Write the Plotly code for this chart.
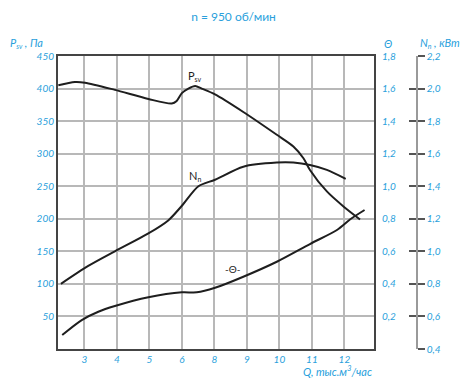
import plotly.graph_objects as go

# fan curves, n = 950 rpm
q_p = [3.2, 3.71, 4.02, 4.94, 5.97, 6.69, 6.84, 7.0, 7.2, 7.41, 7.61, 8.02, 8.89, 9.92, 10.43, 10.74, 10.94, 11.46, 11.97, 12.48]
p_sv = [405, 410, 409, 398, 384, 377, 381, 393, 400, 404, 400, 391, 364, 329, 311, 293, 275, 242, 219, 199]

q_n = [3.28, 4.12, 4.94, 5.97, 6.58, 7.0, 7.51, 8.02, 8.89, 9.92, 10.43, 10.94, 11.46, 12.04]
n_n = [0.80, 0.91, 1.00, 1.11, 1.19, 1.28, 1.40, 1.44, 1.52, 1.545, 1.545, 1.53, 1.50, 1.445]

q_t = [3.32, 3.92, 4.43, 4.94, 5.97, 7.0, 7.46, 8.02, 8.89, 9.92, 10.94, 11.77, 12.18, 12.62]
theta = [0.086, 0.178, 0.229, 0.264, 0.318, 0.348, 0.348, 0.376, 0.444, 0.536, 0.645, 0.731, 0.797, 0.854]

x_ticks = [4, 5, 6, 7, 8, 9, 10, 11, 12]
x_labels = ['3', '4', '5', '6', '8', '9', '10', '11', '12']
p_ticks = [50, 100, 150, 200, 250, 300, 350, 400, 450]
t_ticks = [0.2, 0.4, 0.6, 0.8, 1.0, 1.2, 1.4, 1.6, 1.8]
n_ticks = [0.4, 0.6, 0.8, 1.0, 1.2, 1.4, 1.6, 1.8, 2.0, 2.2]
N_RANGE = [0.4, 2.2]

BLUE = '#2a9fdc'
GRID = '#b8b8b8'
LINE = dict(color='#1e1e1e', width=2, shape='spline', smoothing=0.8)
FONT = 'Lato, "Noto Sans", sans-serif'
tick_font = dict(family=FONT, size=10, color=BLUE, style='italic')

W, H = 467, 378
M = dict(l=58, r=5, t=56, b=29)
X_DOM = 0.7822
plot_w = (W - M['l'] - M['r']) * X_DOM
plot_h = H - M['t'] - M['b']


def comma(v):
    return f"{v:.1f}".replace('.', ',')


fig = go.Figure()
fig.add_trace(go.Scatter(x=q_p, y=p_sv, mode='lines', line=LINE, xaxis='x', yaxis='y'))
fig.add_trace(go.Scatter(x=q_t, y=theta, mode='lines', line=LINE, xaxis='x', yaxis='y2'))
fig.add_trace(go.Scatter(x=q_n, y=n_n, mode='lines', line=LINE, xaxis='x', yaxis='y3'))
# empty traces so the separate N scale (ticks on both sides) gets drawn
fig.add_trace(go.Scatter(x=[None], y=[None], mode='lines', xaxis='x2', yaxis='y4', hoverinfo='skip'))
fig.add_trace(go.Scatter(x=[None], y=[None], mode='lines', xaxis='x2', yaxis='y5', hoverinfo='skip'))

# grid: regular gridlines plus full-length inside ticks as a fallback
fig.update_layout(
    template='none',
    width=W, height=H,
    margin=M,
    paper_bgcolor='white', plot_bgcolor='rgba(0,0,0,0)',
    showlegend=False,
    title=dict(text='n = 950 об/мин', x=0.5, xref='container', xanchor='center',
               y=0.955, yanchor='middle', font=dict(family=FONT, size=12, color=BLUE)),
    xaxis=dict(domain=[0, X_DOM], range=[3.19, 12.91], tickmode='array', tickvals=x_ticks, ticktext=x_labels,
               showgrid=True, gridcolor=GRID, gridwidth=1.5, zeroline=False,
               showline=True, linecolor='#444', linewidth=2, mirror=True, layer='below traces',
               ticks='inside', ticklen=plot_h, tickwidth=1.5, tickcolor=GRID, tickfont=tick_font),
    yaxis=dict(range=[0, 450], tickmode='array', tickvals=p_ticks,
               showgrid=True, gridcolor=GRID, gridwidth=1.5, zeroline=False,
               showline=True, linecolor='#444', linewidth=2, mirror=True, layer='below traces',
               ticks='inside', ticklen=plot_w, tickwidth=1.5, tickcolor=GRID, tickfont=tick_font),
    yaxis2=dict(range=[0, 1.8], overlaying='y', side='right', anchor='x',
                tickmode='array', tickvals=t_ticks, ticktext=[comma(v) for v in t_ticks],
                showgrid=False, zeroline=False, showline=False,
                ticks='outside', ticklen=5, tickcolor='rgba(0,0,0,0)',
                tickfont=tick_font),
    yaxis3=dict(range=N_RANGE, overlaying='y', side='right', anchor='x',
                showgrid=False, zeroline=False, showline=False, ticks='', showticklabels=False),
    xaxis2=dict(domain=[0.80, 0.8854], range=[0, 1], visible=False),
    yaxis4=dict(range=N_RANGE, side='right', anchor='x2',
                tickmode='array', tickvals=n_ticks, ticktext=[comma(v) for v in n_ticks],
                showgrid=False, zeroline=False, showline=True, linecolor='#9a9a9a', linewidth=2,
                ticks='outside', ticklen=7, tickwidth=1.5, tickcolor='#555',
                tickfont=tick_font),
    yaxis5=dict(range=N_RANGE, overlaying='y4', side='right', anchor='x2',
                tickmode='array', tickvals=n_ticks, showticklabels=False,
                showgrid=False, zeroline=False, showline=False,
                ticks='inside', ticklen=7, tickwidth=1.5, tickcolor='#555'),
)

# curve labels
lab = dict(family=FONT, size=11, color='#1e1e1e')
fig.add_annotation(x=7.41, y=419, text="P<sub><span style='font-size:7px'>sv</span></sub>", showarrow=False, font=lab)
fig.add_annotation(x=7.4, y=266, text="N<sub><span style='font-size:7px'>n</span></sub>", showarrow=False, font=lab)
fig.add_annotation(x=8.58, y=123, text='-Θ-', showarrow=False, font=dict(family=FONT, size=10, color='#1e1e1e'))

# axis titles
ttl = dict(family=FONT, size=11, color=BLUE, style='italic')
fig.add_annotation(xref='paper', yref='paper', x=-0.124, y=1.012, xanchor='left', yanchor='bottom',
                   text="P<sub><span style='font-size:7px'>sv</span></sub> , Па", showarrow=False, font=ttl)
fig.add_annotation(xref='paper', yref='paper', x=0.818, y=1.012, xanchor='center', yanchor='bottom',
                   text='Θ', showarrow=False, font=ttl)
fig.add_annotation(xref='paper', yref='paper', x=0.89, y=1.012, xanchor='left', yanchor='bottom',
                   text="N<sub><span style='font-size:7px'>n</span></sub> , кВт", showarrow=False, font=ttl)
fig.add_annotation(xref='paper', yref='paper', x=0.7822, y=-0.04, xanchor='right', yanchor='top',
                   text='Q, тыс.м<sup>3</sup>/час', showarrow=False, font=dict(ttl, size=11))

fig.write_html("out.html", config={'displayModeBar': False},
               post_script="document.body.style.margin='0';")
